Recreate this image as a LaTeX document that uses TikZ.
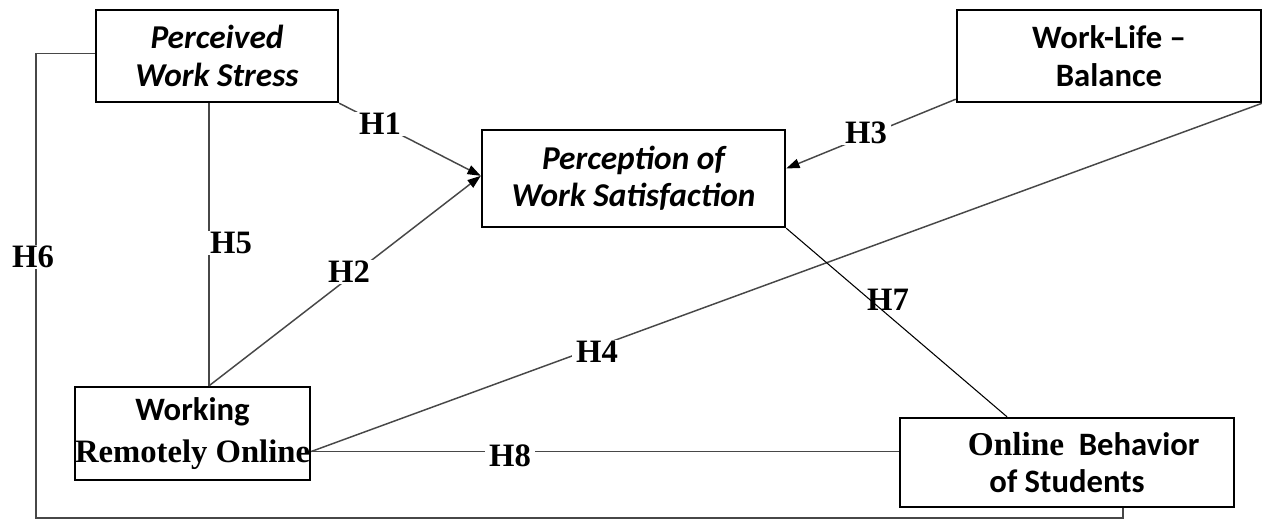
\documentclass[tikz,border=0pt]{standalone}
\usepackage{fontspec}
\setmainfont{Liberation Serif}
\setsansfont{Carlito}
\usetikzlibrary{arrows.meta,calc}
\tikzset{
  box/.style={draw=black, line width=1.8pt, inner sep=0pt, align=center,
    font=\sffamily\bfseries\fontsize{24.5}{28}\selectfont},
  boxi/.style={box, font=\sffamily\bfseries\itshape\fontsize{25}{28}\selectfont},
  conn/.style={draw=black!72, line width=1.1pt},
  thin/.style={draw=black, line width=0.8pt},
  hlab/.style={font=\rmfamily\bfseries\fontsize{24.5}{28}\selectfont, fill=white, inner xsep=3pt, inner ysep=1pt},
  hlabn/.style={font=\rmfamily\bfseries\fontsize{24.5}{28}\selectfont, inner sep=1pt},
  arr/.style={-{Triangle[length=10pt,width=7pt,black]}}
}
\begin{document}
\begin{tikzpicture}[x=0.75pt,y=-0.75pt]
\useasboundingbox[fill=white] (0,0) rectangle (1262,520);

% boxes
\node[boxi, minimum width=181.5pt, minimum height=69pt] (pws) at (217,56) {Perceived\\Work Stress};
\node[boxi, minimum width=227.25pt, minimum height=72.75pt] (pos) at (633.5,178.5) {Perception of\\Work Satisfaction};
\node[box, minimum width=228pt, minimum height=69pt] (wlb) at (1109,56) {Work-Life --\\Balance};
\node[box, minimum width=176.25pt, minimum height=69.75pt] (wro) at (192.5,433.5) {Working\\[3pt]{\rmfamily Remotely Online}};
\node[box, minimum width=250.5pt, minimum height=66.75pt] (obs) at (1067,462.5) {\hspace*{25pt}{\rmfamily\fontsize{25}{28}\selectfont Online}\hspace{11pt}Behavior\\of Students};

% helper coordinates
\coordinate (wt) at ([xshift=12.4pt]wro.north);
\coordinate (we) at ([yshift=-13.5pt]wro.east);
\coordinate (bl) at (36,518);
\coordinate (br) at (1123,518);
\coordinate (pl) at ([yshift=2pt]pos.west);

% connectors
\draw[conn,arr] (pws.south east) -- (pl);
\draw[conn,arr] (wt) -- (pl);
\draw[conn] (wt) -- (wt |- pws.south);
\draw[conn,arr] ([yshift=3pt]wlb.south west) -- ([yshift=7.5pt]pos.east);
\draw[conn] (wlb.south east) -- (we);
\draw[conn] (we) -- (we -| obs.west);
\draw[thin] (pos.south east) -- ([xshift=-45pt]obs.north);
\draw[conn] ([yshift=2pt]pws.west) -| (bl) -- (br) -- (br |- obs.south);

% labels
\node[hlab] (h1) at (380,124) {H1};
\node[hlab] (h2) at (349,272) {H2};
\node[hlab] (h3) at (866,133) {H3};
\node[hlab] (h4) at (597,352) {H4};
\node[hlab] (h5) at (231,243) {H5};
\node[hlab] (h6) at (33,257) {H6};
\node[hlabn] (h7) at (888,300) {H7};
\node[hlab] (h8) at (510,456) {H8};
\end{tikzpicture}
\end{document}
